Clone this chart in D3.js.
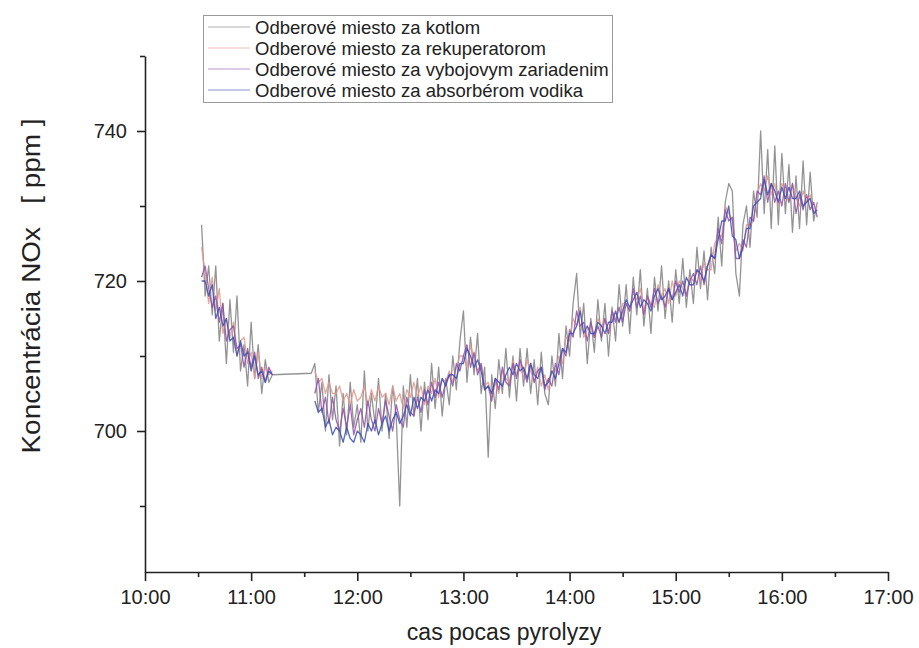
<!DOCTYPE html>
<html>
<head>
<meta charset="utf-8">
<script src="https://cdn.jsdelivr.net/npm/d3@7"></script>
<style>
  body { margin: 0; background: #fff; }
  svg { display: block; }
</style>
</head>
<body>
<svg id="chart" width="919" height="648"></svg>
<script>
// ---------------- DATA ----------------
const seriesNames = [
  "Odberové miesto za kotlom",
  "Odberové miesto za rekuperatorom",
  "Odberové miesto za vybojovym zariadenim",
  "Odberové miesto za absorbérom vodika"
];

// sampling times, minutes after 10:00
const sampleMinutes = [
  32,34,36,38,40,42,44,46,48,50,52,54,56,58,60,62,64,66,68,70,72,
  94,96,98,100,102,104,106,108,110,112,114,116,118,120,122,124,126,128,130,132,134,136,138,140,
  142,144,146,148,150,152,154,156,158,160,162,164,166,168,170,172,174,176,178,180,182,184,186,188,
  190,192,194,196,198,200,202,204,206,208,210,212,214,216,218,220,222,224,226,228,230,232,234,236,
  238,240,242,244,246,248,250,252,254,256,258,260,262,264,266,268,270,272,274,276,278,280,282,284,
  286,288,290,292,294,296,298,300,302,304,306,308,310,312,314,316,318,320,322,324,326,328,330,332,
  334,336,338,340,342,344,346,348,350,352,354,356,358,360,362,364,366,368,370,372,374,376,378,380
];

const kotlom = [
  727.5,718,722,715.5,722,712,717,709,717.5,710.5,
  718,708,711.5,706,714.5,707,711.5,705,709.5,706.5,
  707.5,707.7,709,702.5,706.5,700,707.5,701.5,706,698,
  705,699.5,706.5,700.5,703.5,698.5,708,700,705,701,
  707,700,705,699,706,702,690,706,700.5,707.5,
  702,707,700,706.5,701.5,709,703,708.5,702,707,
  703.5,710,705.5,712,716,706.5,712.5,707.5,713,705,
  708.5,696.5,707.5,703,709.5,705,711,704.5,710,704,
  711,706,711,705,709.5,703.5,710.5,705,703.5,710,
  706,713,707,714,710,717,721,712.5,717,709,
  715,710.5,717.5,712,717,710,716.5,712,719.5,714,
  719.5,713,720.5,715.5,721.5,714,719,713,720.5,716,
  722,715,720,714.5,721.5,717,723,716.5,721.5,717,
  724.5,719,724,717.5,724.5,721,728.5,722,730.5,733,
  732,721,718,727.5,730,724.5,732,728.5,740,729,
  737.5,727,738,727.5,737,729,735.5,726.5,734,727,
  736,727.5,734.5,728,730.5
];

const rekuperatorom = [
  724.5,721,717,720.5,716,719,713,715,712.5,714.5,
  710,712,712.5,709,710.5,707,710.5,707,708.5,707.5,
  708,null,708,706.5,707,705,706.5,705,705,706,
  704,705,703.5,705.5,704,704.5,706,703.5,705.5,704,
  706,704.5,705,703.5,706,704,705,703,705.5,704.5,
  706.5,704.5,706,703.5,706,705,707,704.5,707,706.5,
  708,706.5,708.5,710,710,708.5,711.5,709.5,708,709,
  706,706.5,704.5,706.5,705,708,707,706.5,709.5,707.5,
  709,707,709.5,708,706.5,708.5,706,707.5,705.5,708,
  708,710,709,712.5,712,715,714,716.5,712.5,713.5,
  714,712.5,715,714,715,713,716,715,714.5,717,
  717,716,718.5,717.5,719,716,718,717,716.5,719.5,
  718,719,717,720,718,720,719,718,720.5,720,
  721.5,720,722.5,721.5,721.5,725,726,726,730,729,
  728,724,725,724,727.5,727.5,728,731.5,733,732,
  734,731.5,733,730,733,732,730.5,733,731,730,
  732,730.5,731.5,729,730
];

const vybojovym = [
  720.5,722,719,716.5,718,714.5,717,712,713.5,714,
  711,711.5,708.5,711,708.5,710.5,707,708.5,706.5,708.5,
  707.5,null,705,707,702.5,704.5,701,704.5,701.5,700,
  703,700.5,703.5,699.5,701.5,703,700.5,704,701.5,700,
  703,701,704,702,700,703.5,701.5,700.5,704.5,702.5,
  702,704.5,702.5,705.5,703.5,706.5,704.5,706.5,704.5,706.5,
  707.5,706,709,708,710,711.5,708.5,710.5,707.5,709,
  705.5,706,704,707,705.5,708.5,706.5,706,709,707,
  709.5,708,706.5,709,706.5,708,708.5,705.5,707,706,
  709,707.5,711,710,713.5,712.5,716,714,714.5,712,
  714.5,712.5,714,712.5,715,713,716,714.5,716.5,714.5,
  717,716,719,716.5,718,715.5,718,716.5,719,717,
  718,716.5,719,717.5,720,718.5,720,718,720,721,
  719.5,722,719.5,722,723.5,723,727,725,729.5,728,
  728.5,723,723,725.5,724.5,728.5,728,732,731.5,734,
  730.5,733,730.5,732,730,733,730.5,733,729,731.5,
  729.5,731.5,729.5,730.5,728.5
];

const absorberom = [
  720,720,718,719.5,715,716.5,714,715,712,712.5,
  710,712,710,710.5,708,710,707.5,708,706.5,708,
  707.5,null,704,702.5,703,700.5,701.5,699.5,700.5,700,
  698.5,700.5,699,698.5,700,699.5,698.5,701,700,701.5,
  699.5,701,702,700,701.5,702.5,701,702,703.5,702,
  704.5,703,704.5,704,705.5,704,705.5,705,707,706,
  707.5,707.5,707,709,709,711,710,708.5,709.5,708,
  705.5,706,705,707,706.5,706,707.5,708.5,707.5,709,
  708,708.5,707,709,707.5,707,708.5,706,706.5,708,
  707,709,711,710.5,713,713,714,716,713,714,
  713,713,714.5,714,713,714.5,714.5,716,714.5,716,
  717.5,716.5,717.5,718.5,716.5,717.5,717,716,718,719,
  717.5,718,719,717.5,718.5,719.5,718,720.5,719.5,719.5,
  721.5,721,720,722,723.5,723,725.5,728,728,730,
  726,725.5,723,724.5,727,727,730,730.5,731,733.5,
  731.5,733,732,730.5,732.5,731,732.5,731,731,732,
  730,730.5,731,729,729.5
];

const seriesColors = ["#808080", "#e0988c", "#9050a8", "#3a4fb0"];

const xTickMinutes = [0, 60, 120, 180, 240, 300, 360, 420];
const xTickLabels = ["10:00","11:00","12:00","13:00","14:00","15:00","16:00","17:00"];
const xMinorMinutes = [30, 90, 150, 210, 270, 330, 390];
const yTickValues = [700, 720, 740];
const yMinorValues = [690, 710, 730, 750];

const xTitle = "cas pocas pyrolyzy";
const yTitle = "Koncentrácia NOx   [ ppm ]";

// ---------------- CHART ----------------
const FONT = "'Liberation Sans', Arial, Helvetica, sans-serif";
const svg = d3.select("#chart");

const x = d3.scaleLinear().domain([0, 420]).range([145, 888]);
const y = d3.scaleLinear().domain([681.2, 750]).range([572, 56]);

const allSeries = [kotlom, rekuperatorom, vybojovym, absorberom];

const line = d3.line()
  .defined(d => d.v !== null)
  .x(d => x(d.t))
  .y(d => y(d.v));

const gLines = svg.append("g");
allSeries.forEach((vals, i) => {
  const pts = sampleMinutes.map((t, j) => ({ t: t, v: vals[j] }));
  gLines.append("path")
    .datum(pts)
    .attr("fill", "none")
    .attr("stroke", seriesColors[i])
    .attr("stroke-width", 1.3)
    .attr("stroke-opacity", 0.85)
    .attr("stroke-linejoin", "round")
    .attr("d", line);
});

// x axis
const xAxis = d3.axisBottom(x)
  .tickValues(xTickMinutes)
  .tickFormat((d, i) => xTickLabels[i])
  .tickSize(9)
  .tickSizeOuter(0)
  .tickPadding(9);
const gx = svg.append("g").attr("transform", "translate(0,572)").call(xAxis);
const gxm = svg.append("g").attr("transform", "translate(0,572)")
  .call(d3.axisBottom(x).tickValues(xMinorMinutes).tickFormat("").tickSize(5).tickSizeOuter(0));
gxm.select(".domain").remove();

// y axis
const yAxis = d3.axisLeft(y)
  .tickValues(yTickValues)
  .tickSize(8)
  .tickSizeOuter(0)
  .tickPadding(10);
const gy = svg.append("g").attr("transform", "translate(145,0)").call(yAxis);
const gym = svg.append("g").attr("transform", "translate(145,0)")
  .call(d3.axisLeft(y).tickValues(yMinorValues).tickFormat("").tickSize(5).tickSizeOuter(0));
gym.select(".domain").remove();

[gx, gxm, gy, gym].forEach(g => {
  g.selectAll("path.domain").attr("stroke", "#222").attr("stroke-width", 1.6);
  g.selectAll(".tick line").attr("stroke", "#222").attr("stroke-width", 1.6);
  g.selectAll(".tick text")
    .attr("fill", "#222")
    .style("font-family", FONT)
    .style("font-size", "20px");
});

// axis titles
svg.append("text")
  .attr("x", 504)
  .attr("y", 640)
  .attr("text-anchor", "middle")
  .attr("fill", "#222")
  .style("font-family", FONT)
  .style("font-size", "23px")
  .text(xTitle);

svg.append("text")
  .attr("transform", "translate(40,286) rotate(-90)")
  .attr("text-anchor", "middle")
  .attr("fill", "#222")
  .attr("textLength", 335)
  .attr("lengthAdjust", "spacingAndGlyphs")
  .style("white-space", "pre")
  .style("font-family", FONT)
  .style("font-size", "26px")
  .text(yTitle);

// legend
const legend = svg.append("g");
legend.append("rect")
  .attr("x", 203.5).attr("y", 15.5)
  .attr("width", 409).attr("height", 87)
  .attr("fill", "#fff")
  .attr("stroke", "#999")
  .attr("stroke-width", 1);
seriesNames.forEach((name, i) => {
  const yy = 27 + i * 21;
  legend.append("line")
    .attr("x1", 208).attr("x2", 250)
    .attr("y1", yy).attr("y2", yy)
    .attr("stroke", seriesColors[i])
    .attr("stroke-opacity", 0.6)
    .attr("stroke-width", 1.2);
  legend.append("text")
    .attr("x", 255).attr("y", yy)
    .attr("dy", "0.36em")
    .attr("fill", "#222")
    .style("font-family", FONT)
    .style("font-size", "18.5px")
    .text(name);
});
</script>
</body>
</html>
